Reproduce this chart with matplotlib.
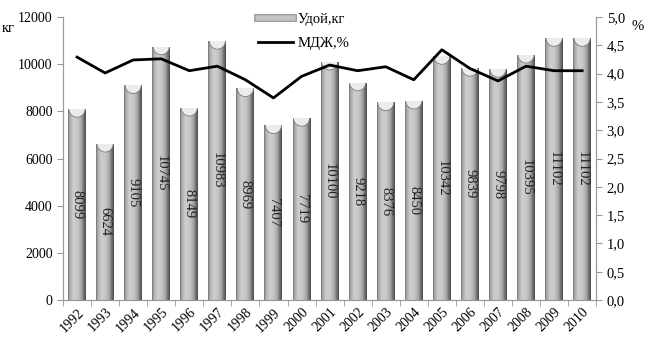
import numpy as np
import matplotlib
matplotlib.use("Agg")
import matplotlib.pyplot as plt
from matplotlib.colors import LinearSegmentedColormap
from matplotlib.patches import Ellipse
from matplotlib.lines import Line2D
import matplotlib.patheffects as pe

years = ["1992", "1993", "1994", "1995", "1996", "1997", "1998", "1999", "2000", "2001",
         "2002", "2003", "2004", "2005", "2006", "2007", "2008", "2009", "2010"]
milk = [8099, 6624, 9105, 10745, 8149, 10983, 8969, 7407, 7719, 10100,
        9218, 8376, 8450, 10342, 9839, 9798, 10395, 11102, 11102]
fat = [4.29, 4.01, 4.24, 4.26, 4.05, 4.13, 3.89, 3.57, 3.95, 4.15,
       4.05, 4.12, 3.89, 4.42, 4.09, 3.87, 4.13, 4.05, 4.05]
left_ticks = [0, 2000, 4000, 6000, 8000, 10000, 12000]
right_ticks = [0.0, 0.5, 1.0, 1.5, 2.0, 2.5, 3.0, 3.5, 4.0, 4.5, 5.0]

plt.rcParams['font.family'] = ['Liberation Serif', 'DejaVu Serif']

fig = plt.figure(figsize=(6.53, 3.38), dpi=100)
ax = fig.add_axes([0.0965, 0.112, 0.8165, 0.838])
ax2 = ax.twinx()

x = np.arange(len(years))
w = 0.64
cmap = LinearSegmentedColormap.from_list(
    "cyl", [(0.0, "#707070"), (0.08, "#a8a8a8"), (0.3, "#cfcfcf"), (0.55, "#c6c6c6"),
            (0.75, "#a6a6a6"), (0.9, "#6c6c6c"), (1.0, "#4c4c4c")])
grad = np.linspace(0, 1, 64).reshape(1, -1)
bars = ax.bar(x, milk, width=w, color="#c0c0c0", edgecolor="none", zorder=2)
for b in bars:
    x0, y0 = b.get_x(), b.get_y()
    bw, bh = b.get_width(), b.get_height()
    im = ax.imshow(grad, cmap=cmap, aspect="auto", extent=[x0, x0 + bw, y0, y0 + bh], zorder=2)
    im.set_clip_path(b)
    cap = Ellipse((x0 + bw / 2, y0 + bh), bw * 0.9, 700,
                  facecolor="#ececec", edgecolor="#7a7a7a", lw=0.6, zorder=3)
    ax.add_patch(cap)
    cap.set_clip_path(b)
for xi, v in zip(x, milk):
    ax.text(xi, v / 2, str(v), rotation=270, ha="center", va="center", fontsize=10.5,
            color="#222222", zorder=4)

ax.set_xlim(-0.5, len(years) - 0.5)
ax.set_ylim(0, 12000)
ax.set_yticks(left_ticks)
ax.set_yticklabels([str(t) for t in left_ticks], fontsize=10)
ax.set_xticks(x)
ax.set_xticklabels(years, rotation=45, ha="right", rotation_mode="anchor", fontsize=10)
ax.set_xticks(np.arange(-0.5, len(years), 1), minor=True)
ax.tick_params(axis="x", which="major", length=0, pad=4)
ax.tick_params(axis="x", which="minor", length=4, color="#999999")
ax.tick_params(axis="y", length=4, color="#999999")

ax2.plot(x, fat, color="black", lw=2, zorder=5)
ax2.set_ylim(0, 5)
ax2.set_yticks(right_ticks)
ax2.set_yticklabels([f"{t:.1f}".replace(".", ",") for t in right_ticks], fontsize=10.5)
ax2.tick_params(axis="y", length=4, color="#999999")

for a in (ax, ax2):
    a.spines["top"].set_visible(False)
    for s in ("left", "right", "bottom"):
        a.spines[s].set_color("#999999")
ax.set_zorder(ax2.get_zorder() - 1)
ax2.patch.set_visible(False)
ax.patch.set_visible(False)

fig.text(0.003, 0.905, "кг", fontsize=10.5)
fig.text(0.967, 0.91, "%", fontsize=10.5)

handles = [Line2D([0], [0], color="#c4c4c4", lw=4,
                  path_effects=[pe.Stroke(linewidth=5.5, foreground="#888888"), pe.Normal()]),
           Line2D([0], [0], color="black", lw=2)]
ax2.legend(handles, ["Удой,кг", "МДЖ,%"], loc="upper left", bbox_to_anchor=(0.355, 1.035),
           frameon=False, fontsize=10.5, handlelength=2.4, handletextpad=0.3,
           labelspacing=0.75, borderaxespad=0)

fig.savefig("out.png", dpi=100)
